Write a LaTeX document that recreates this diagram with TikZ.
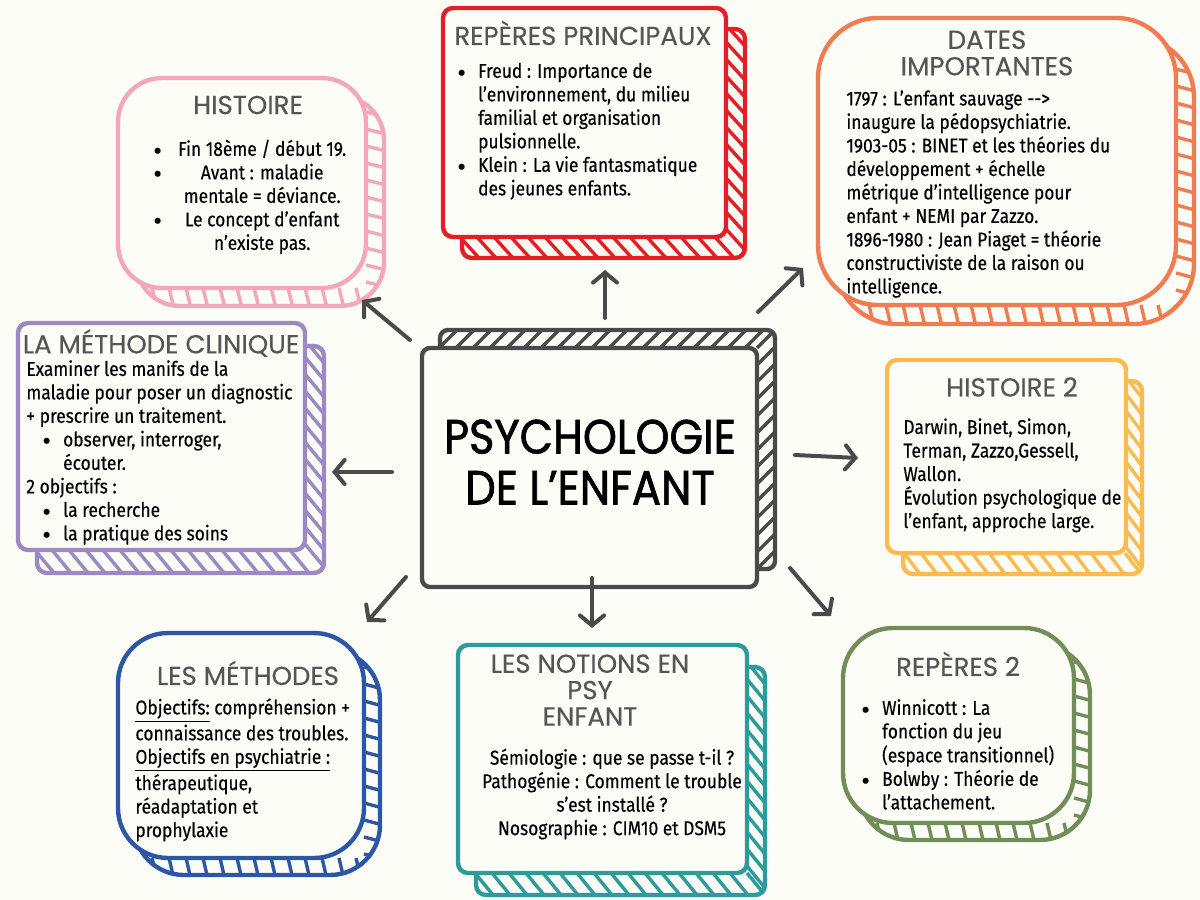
\documentclass[tikz,border=0pt]{standalone}
\usepackage{fontspec}
\usepackage{graphicx}
\setmainfont{Fira Sans}[FakeStretch=0.87,FakeBold=0.3]
\newfontfamily\bulfont{Fira Sans}
\newfontfamily\headfont{Poppins}[FakeBold=0.4]
\newfontfamily\centerfont{Poppins}[FakeBold=1.4,FakeStretch=0.9]
\usetikzlibrary{arrows.meta}
\definecolor{bg}{HTML}{FDFDF8}
\definecolor{pinkc}{HTML}{F4A7BA}
\definecolor{redc}{HTML}{E41E26}
\definecolor{orangec}{HTML}{F07C52}
\definecolor{purplec}{HTML}{9C89C3}
\definecolor{grayc}{HTML}{4A4A4A}
\definecolor{yellowc}{HTML}{FDBB4F}
\definecolor{bluec}{HTML}{2C57A4}
\definecolor{tealc}{HTML}{2B9B9C}
\definecolor{greenc}{HTML}{718E58}
\definecolor{headgray}{HTML}{555555}
\newcommand\bul{\smash{\raisebox{-2.1pt}{\bulfont\fontsize{13.5}{0}\selectfont •}}}
\def\hs{1}
\newcommand\skbox[9]{%
  % #1 colour, #2 x1, #3 y1, #4 x2, #5 y2, #6 radius, #7 dx, #8 dy, #9 hatch edge y
  \begin{scope}
    \clip[rounded corners=#6pt] ({#2+#7},{#3+#8}) rectangle ({#4+#7},{#5+#8});
    \pgfmathtruncatemacro\nh{(#4-#2)/17}
    \pgfmathtruncatemacro\nv{(#5-#3)/17}
    \foreach \i in {0,...,\nh} {\draw[#1,line width=1.7pt] ({#2+\i*17},{#9}) -- ++({\hs*#7},{#8});}
    \foreach \i in {0,...,\nv} {\draw[#1,line width=1.7pt] ({#4},{#3+\i*17}) -- ++({#7},{\hs*#8});}
  \end{scope}
  \draw[#1,line width=2.2pt,rounded corners=#6pt] ({#2+#7},{#3+#8}) rectangle ({#4+#7},{#5+#8});
  \draw[#1,line width=2.2pt,fill=bg,rounded corners=#6pt] (#2,#3) rectangle (#4,#5);
}
\tikzset{
  title/.style={font=\headfont\fontsize{13}{13.2}\selectfont, text=headgray, inner sep=0pt, align=center},
  body/.style={font=\fontsize{10}{11.75}\selectfont, text=black, inner sep=0pt, align=left},
  conn/.style={draw=grayc, line width=2pt, line cap=round, -{Straight Barb[length=5pt,width=12pt,line cap=round]}},
}
\begin{document}
\begin{tikzpicture}[x=0.5pt,y=-0.5pt]
\useasboundingbox[fill=bg] (0,0) rectangle (1200,900);

% boxes
\def\hs{0.25}
\skbox{pinkc}{118}{78}{366}{288}{22}{18}{18}{288}
\skbox{orangec}{818}{18}{1176}{305}{30}{18}{19}{305}
\skbox{bluec}{118}{633}{364}{858}{25}{16}{17}{858}
\skbox{greenc}{843}{628}{1074}{823}{25}{16}{17}{823}
\def\hs{1}
\skbox{redc}{443}{8}{726}{237}{5}{19}{21}{237}
\skbox{purplec}{18}{323}{305}{550}{5}{19}{23}{550}
\skbox{grayc}{422}{348}{757}{587}{4}{18}{-18}{348}
\skbox{yellowc}{887}{360}{1126}{553}{5}{16}{21}{553}
\skbox{tealc}{458}{645}{747}{873}{5}{18}{22}{873}

% centre
\node[font=\centerfont\fontsize{24}{25.5}\selectfont, text=black, align=center, inner sep=0pt] (ctr) at (590,462) {PSYCHOLOGIE\\DE L’ENFANT};

% HISTOIRE
\node[title] (h1t) at (248,105) {HISTOIRE};
\node[body, anchor=north west] (h1b) at (153,139) {\begin{tabular}{@{}c@{\hspace{8pt}}c@{}}
\bul & Fin 18ème / début 19.\\
\bul & Avant : maladie\\
  & mentale = déviance.\\
\bul & Le concept d’enfant\\
  & n’existe pas.
\end{tabular}};

% REPÈRES PRINCIPAUX
\node[title] (rpt) at (583,33) {REPÈRES PRINCIPAUX};
\node[body, anchor=north west] (rpb) at (457,61) {\begin{tabular}{@{}l@{\hspace{6pt}}l@{}}
\bul & Freud : Importance de\\
  & l’environnement, du milieu\\
  & familial et organisation\\
  & pulsionnelle.\\
\bul & Klein : La vie fantasmatique\\
  & des jeunes enfants.
\end{tabular}};

% DATES IMPORTANTES
\node[title] (dt) at (987,53) {DATES\\IMPORTANTES};
\node[body, anchor=north west] (db) at (846,90) {1797 : L’enfant sauvage -{}->\\
inaugure la pédopsychiatrie.\\
1903-05 : BINET et les théories du\\
développement + échelle\\
métrique d’intelligence pour\\
enfant + NEMI par Zazzo.\\
1896-1980 : Jean Piaget = théorie\\
constructiviste de la raison ou\\
intelligence.};

% LA MÉTHODE CLINIQUE
\node[title] (mct) at (161,343) {LA MÉTHODE CLINIQUE};
\node[body, anchor=north west] (mcb) at (26,359) {\begin{tabular}{@{\hspace{8pt}}l@{\hspace{6pt}}l@{}}
\multicolumn{2}{@{}l@{}}{Examiner les manifs de la}\\
\multicolumn{2}{@{}l@{}}{maladie pour poser un diagnostic}\\
\multicolumn{2}{@{}l@{}}{+ prescrire un traitement.}\\
\bul & observer, interroger,\\
  & écouter.\\
\multicolumn{2}{@{}l@{}}{2 objectifs :}\\
\bul & la recherche\\
\bul & la pratique des soins
\end{tabular}};

% HISTOIRE 2
\node[title] (h2t) at (1012,387) {HISTOIRE 2};
\node[body, anchor=north west] (h2b) at (903,418) {Darwin, Binet, Simon,\\
Terman, Zazzo,Gessell,\\
Wallon.\\
Évolution psychologique de\\
l’enfant, approche large.};

% LES MÉTHODES
\node[title] (mt) at (248,673) {LES MÉTHODES};
\node[body, anchor=north west] (mb) at (135,698) {\underline{Objectifs:} compréhension +\\
connaissance des troubles.\\
\underline{Objectifs en psychiatrie :}\\
thérapeutique,\\
réadaptation et\\
prophylaxie};

% LES NOTIONS EN PSY ENFANT
\node[title] (nt) at (590,690) {LES NOTIONS EN\\PSY\\ENFANT};
\node[body, align=center] (nb) at (612,794) {Sémiologie : que se passe t-il ?\\
Pathogénie : Comment le trouble\\
s’est installé ?\\
Nosographie : CIM10 et DSM5};

% REPÈRES 2
\node[title] (r2t) at (958,664) {REPÈRES 2};
\node[body, anchor=north west] (r2b) at (861,698) {\begin{tabular}{@{}l@{\hspace{6pt}}l@{}}
\bul & Winnicott : La\\
  & fonction du jeu\\
  & (espace transitionnel)\\
\bul & Bolwby : Théorie de\\
  & l’attachement.
\end{tabular}};

% connectors
\coordinate (a1s) at (410,340); \coordinate (a1e) at (362,300);
\coordinate (a2s) at (605,318); \coordinate (a2e) at (605,270);
\coordinate (a3s) at (758,312); \coordinate (a3e) at (803,268);
\coordinate (a4s) at (392,472); \coordinate (a4e) at (332,472);
\coordinate (a5s) at (795,455); \coordinate (a5e) at (858,458);
\coordinate (a6s) at (406,577); \coordinate (a6e) at (367,622);
\coordinate (a7s) at (592,578); \coordinate (a7e) at (592,628);
\coordinate (a8s) at (790,568); \coordinate (a8e) at (831,616);
\foreach \k in {1,...,8} {\draw[conn] (a\k s) -- (a\k e);}
\end{tikzpicture}
\end{document}
